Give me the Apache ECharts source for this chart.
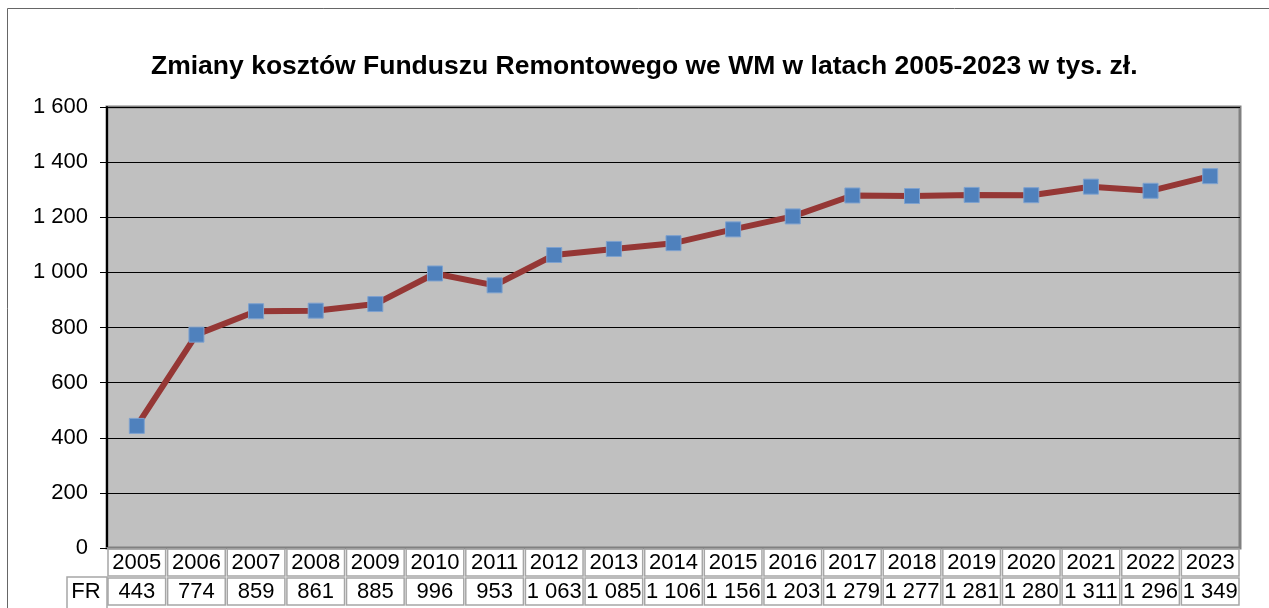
<!DOCTYPE html>
<html><head><meta charset="utf-8">
<script src="https://cdn.jsdelivr.net/npm/echarts@6/dist/echarts.min.js"></script>
<style>html,body{margin:0;padding:0;background:#fff}#c{width:1269px;height:608px}</style>
</head><body><div id="c"></div>
<script>
const years = ['2005','2006','2007','2008','2009','2010','2011','2012','2013','2014','2015','2016','2017','2018','2019','2020','2021','2022','2023'];
const fr = [443,774,859,861,885,996,953,1063,1085,1106,1156,1203,1279,1277,1281,1280,1311,1296,1349];
const seriesName = 'FR';
const titleText = 'Zmiany kosztów Funduszu Remontowego we WM w latach 2005-2023 w tys. zł.';

function fmt(v){ return String(v).replace(/\B(?=(\d{3})+(?!\d))/g,' '); }

const chart = echarts.init(document.getElementById('c'));
const gl = 107, gr = 29;
const cw = (1269 - gl - gr) / years.length;
const FONT = 'Arial, "Liberation Sans", sans-serif';
const FS = 22;
const cell = {
  width: cw - 2, height: 27, lineHeight: 27, align: 'center',
  borderColor: '#a6a6a6', borderWidth: 1.5, fontSize: FS, color: '#000', fontFamily: FONT
};
chart.setOption({
  animation: false,
  title: { text: titleText, left: 146, top: 48,
    textStyle: { fontSize: 26.5, fontWeight: 'bold', color: '#000', fontFamily: FONT } },
  graphic: [
    { type: 'rect', shape: { x: 7.5, y: 8.5, width: 1400, height: 800 }, style: { fill: null, stroke: '#666', lineWidth: 1 }, silent: true },
    { type: 'rect', shape: { x: 67, y: 577, width: 40, height: 40 }, style: { fill: null, stroke: '#a6a6a6', lineWidth: 1.5 }, silent: true },
    { type: 'text', x: 86, y: 592, style: { text: seriesName, align: 'center', verticalAlign: 'middle',
      fontSize: FS, fill: '#000', fontFamily: FONT } }
  ],
  grid: { left: gl, right: gr, top: 107, bottom: 60, backgroundColor: '#c0c0c0', show: true,
    borderColor: '#808080', borderWidth: 3 },
  xAxis: [
    { type: 'category', data: years, boundaryGap: true, position: 'bottom',
      axisLine: { show: true, lineStyle: { color: '#808080', width: 2 } }, axisTick: { show: false },
      axisLabel: Object.assign({ interval: 0, margin: 1 }, cell) },
    { type: 'category', data: years, boundaryGap: true, position: 'bottom', offset: 29,
      axisLine: { show: false }, axisTick: { show: false },
      axisLabel: Object.assign({ interval: 0, margin: 1, height: 30, lineHeight: 30,
        formatter: (v, i) => fmt(fr[i]) }, cell) }
  ],
  yAxis: { type: 'value', min: 0, max: 1600, interval: 200,
    axisLine: { show: true, lineStyle: { color: '#000', width: 2 } },
    axisTick: { show: true, inside: false, length: 7, lineStyle: { color: '#000' } },
    axisLabel: { fontSize: FS, color: '#000', fontFamily: FONT, margin: 19, formatter: v => fmt(v) },
    splitLine: { show: true, lineStyle: { color: '#000', width: 1.2 } } },
  series: [{
    name: seriesName, type: 'line', data: fr, xAxisIndex: 0,
    lineStyle: { color: '#953735', width: 6 },
    symbol: 'rect', symbolSize: 15,
    itemStyle: { color: '#4f81bd', borderColor: '#7da1cf', borderWidth: 1 },
    z: 3
  }]
});
</script></body></html>
